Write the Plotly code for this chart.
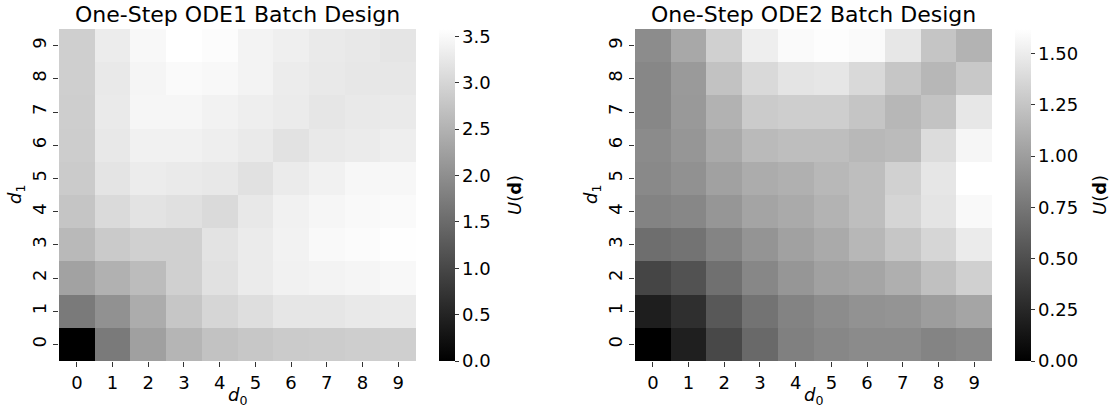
import plotly.graph_objects as go

d0_labels = list(range(10))
d1_labels = list(range(10))

# rows: d1 = 0..9 ; columns: d0 = 0..9
ode1_values = [
    [0.00, 1.71, 2.25, 2.54, 2.72, 2.79, 2.85, 2.86, 2.89, 2.91],
    [1.71, 2.04, 2.41, 2.78, 3.00, 3.12, 3.23, 3.23, 3.27, 3.29],
    [2.27, 2.48, 2.64, 2.92, 3.16, 3.30, 3.38, 3.41, 3.44, 3.48],
    [2.60, 2.84, 2.92, 2.92, 3.19, 3.30, 3.40, 3.50, 3.52, 3.57],
    [2.77, 3.06, 3.19, 3.14, 3.06, 3.26, 3.38, 3.45, 3.50, 3.51],
    [2.85, 3.20, 3.31, 3.29, 3.26, 3.16, 3.30, 3.38, 3.47, 3.47],
    [2.88, 3.26, 3.38, 3.38, 3.34, 3.29, 3.17, 3.27, 3.30, 3.34],
    [2.89, 3.29, 3.45, 3.45, 3.40, 3.34, 3.30, 3.23, 3.27, 3.29],
    [2.91, 3.27, 3.44, 3.51, 3.48, 3.41, 3.31, 3.27, 3.24, 3.24],
    [2.91, 3.31, 3.48, 3.58, 3.54, 3.41, 3.36, 3.29, 3.26, 3.21],
]

ode2_values = [
    [0.00, 0.20, 0.46, 0.67, 0.81, 0.86, 0.88, 0.88, 0.84, 0.87],
    [0.19, 0.30, 0.56, 0.73, 0.83, 0.89, 0.93, 0.94, 1.00, 1.05],
    [0.44, 0.52, 0.71, 0.86, 0.95, 1.02, 1.05, 1.11, 1.22, 1.32],
    [0.70, 0.73, 0.84, 0.94, 1.02, 1.08, 1.16, 1.26, 1.36, 1.49],
    [0.83, 0.86, 0.95, 1.04, 1.08, 1.14, 1.21, 1.35, 1.45, 1.58],
    [0.87, 0.92, 1.02, 1.09, 1.12, 1.17, 1.21, 1.33, 1.46, 1.62],
    [0.88, 0.95, 1.08, 1.18, 1.21, 1.21, 1.17, 1.19, 1.40, 1.56],
    [0.86, 0.97, 1.13, 1.29, 1.31, 1.31, 1.25, 1.16, 1.24, 1.47],
    [0.86, 0.98, 1.23, 1.38, 1.45, 1.46, 1.38, 1.26, 1.16, 1.27],
    [0.89, 1.07, 1.32, 1.51, 1.59, 1.61, 1.59, 1.47, 1.25, 1.14],
]

ode1_ticks = [0.0, 0.5, 1.0, 1.5, 2.0, 2.5, 3.0, 3.5]
ode2_ticks = [0.0, 0.25, 0.5, 0.75, 1.0, 1.25, 1.5]

titles = ["One-Step ODE1 Batch Design", "One-Step ODE2 Batch Design"]

W, H = 1112, 410
FONT = "DejaVu Sans"
gray = [[0, "black"], [1, "white"]]
TF = 18

def px_x(p):
    return p / W

def px_y(p):
    return 1 - p / H

panels = [
    dict(z=ode1_values, ticks=ode1_ticks, fmt=".1f", left=59, right=416, cb=439, cbt=514),
    dict(z=ode2_values, ticks=ode2_ticks, fmt=".2f", left=635, right=992, cb=1015, cbt=1099),
]
top, bottom = 29, 361

fig = go.Figure()
annotations = []
for i, p in enumerate(panels):
    zmax = max(max(r) for r in p["z"])
    xa = "x" if i == 0 else "x2"
    ya = "y" if i == 0 else "y2"
    fig.add_trace(go.Heatmap(
        z=p["z"], x=d0_labels, y=d1_labels,
        colorscale=gray, zmin=0, zmax=zmax,
        xaxis=xa, yaxis=ya,
        colorbar=dict(
            x=px_x(p["cb"]), xanchor="left", xpad=0, ypad=0,
            y=px_y((top + bottom) / 2), yanchor="middle",
            len=(bottom - top) / H, lenmode="fraction",
            thickness=16, outlinewidth=0,
            tickvals=p["ticks"], tickformat=p["fmt"],
            ticks="outside", ticklen=4, tickwidth=1, tickcolor="#333",
            tickfont=dict(size=TF, color="black", family=FONT),
        ),
    ))
    axis_common = dict(
        tickmode="array", tickvals=d0_labels, ticks="outside", ticklen=5,
        tickwidth=1, tickcolor="#333", showgrid=False, zeroline=False,
        showline=False, tickfont=dict(size=TF, color="black", family=FONT),
    )
    fig.layout["xaxis" + ("" if i == 0 else "2")] = dict(
        axis_common, domain=[px_x(p["left"]), px_x(p["right"])],
        anchor=ya, range=[-0.5, 9.5],
    )
    fig.layout["yaxis" + ("" if i == 0 else "2")] = dict(
        axis_common, domain=[px_y(bottom), px_y(top)],
        anchor=xa, range=[-0.5, 9.5], tickangle=-90,
    )
    cx = (p["left"] + p["right"]) / 2
    annotations.append(dict(
        text=titles[i], x=px_x(cx), y=px_y(14),
        xref="paper", yref="paper", xanchor="center", yanchor="middle",
        showarrow=False, font=dict(size=22, color="black", family=FONT),
    ))
    annotations.append(dict(
        text="<i>d</i><sub>0</sub>", x=px_x(cx), y=px_y(396),
        xref="paper", yref="paper", xanchor="center", yanchor="middle",
        showarrow=False, font=dict(size=TF, color="black", family=FONT),
    ))
    annotations.append(dict(
        text="<i>d</i><sub>1</sub>", x=px_x(p["left"] - 43), y=px_y((top + bottom) / 2),
        xref="paper", yref="paper", xanchor="center", yanchor="middle",
        textangle=-90, showarrow=False,
        font=dict(size=TF, color="black", family=FONT),
    ))
    annotations.append(dict(
        text="<i>U</i>(<b>d</b>)", x=px_x(p["cbt"]), y=px_y((top + bottom) / 2),
        xref="paper", yref="paper", xanchor="center", yanchor="middle",
        textangle=-90, showarrow=False,
        font=dict(size=TF, color="black", family=FONT),
    ))

fig.update_layout(
    width=W, height=H, margin=dict(l=0, r=0, t=0, b=0),
    paper_bgcolor="white", plot_bgcolor="white",
    annotations=annotations, font=dict(family=FONT, color="black"),
    showlegend=False,
)

# the page's default body margin would push the 1112x410 figure off the window
fig.write_html(
    "out.html",
    config={"displayModeBar": False},
    post_script="document.body.style.margin='0';document.body.style.overflow='hidden';",
)
